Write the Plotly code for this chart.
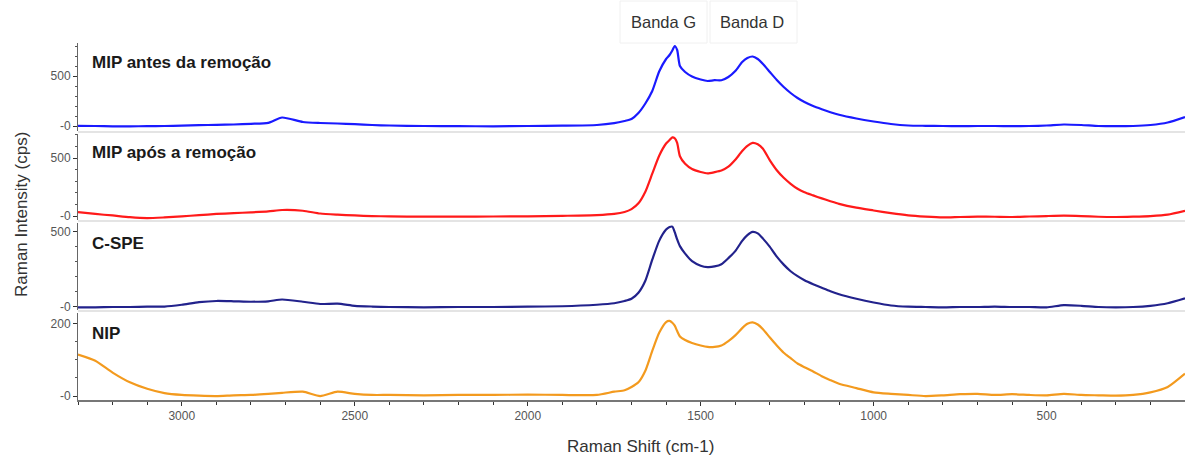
import plotly.graph_objects as go

# Raman shift grid (cm-1)
shift = [3300, 3250, 3200, 3150, 3100, 3050, 3000, 2950, 2900, 2850, 2800, 2750, 2710,
         2650, 2600, 2550, 2500, 2450, 2400, 2300, 2200, 2100, 2000, 1900, 1800, 1750,
         1720, 1700, 1680, 1660, 1640, 1620, 1600, 1590, 1582, 1575, 1568, 1560, 1545,
         1525, 1500, 1480, 1460, 1440, 1420, 1400, 1380, 1365, 1350, 1335, 1320, 1300,
         1280, 1260, 1240, 1220, 1200, 1175, 1150, 1125, 1100, 1050, 1000, 950, 900,
         850, 800, 750, 700, 650, 600, 550, 500, 450, 400, 350, 300, 250, 200, 150, 100]

mip_antes = [2, 0, -3, -3, -2, 0, 3, 8, 12, 15, 22, 32, 85,
             40, 30, 25, 18, 10, 5, 0, -2, -3, 0, 3, 10, 28,
             50, 70, 130, 225, 350, 545, 670, 710, 755, 800, 760, 600, 540,
             495, 465, 450, 458, 458, 490, 550, 640, 680, 695, 670, 620, 540,
             460, 390, 330, 280, 240, 200, 168, 138, 112, 75, 45, 20, 5,
             2, 0, -2, 0, 0, -2, 0, 5, 15, 10, 0, -2, 0, 10, 35, 90]

mip_apos = [34, 18, 5, -10, -18, -12, -3, 8, 18, 25, 32, 40, 52,
            46, 22, 12, 5, 0, -3, -5, -5, -4, -2, 2, 8, 18,
            35, 60, 110, 210, 365, 520, 625, 655, 678, 670, 630, 515, 450,
            405, 380, 368, 378, 392, 425, 485, 560, 605, 630, 618, 580, 480,
            395, 330, 278, 235, 205, 178, 152, 128, 105, 72, 48, 25, 6,
            -5, -12, -8, -5, -6, -8, -4, 0, 3, 0, -6, -8, -5, 0, 12, 45]

c_spe = [-2, -2, 0, 0, 2, 3, 15, 32, 40, 38, 35, 38, 50,
         35, 20, 22, 8, 3, 0, -2, 0, 0, 2, 5, 15, 25,
         40, 55, 95, 175, 315, 440, 515, 532, 535, 498, 450, 405, 355,
         305, 275, 266, 270, 285, 325, 372, 440, 478, 500, 490, 455, 400,
         335, 282, 238, 205, 178, 152, 128, 105, 85, 55, 30, 10, 2,
         0, -2, 0, 0, 3, 0, 0, -2, 12, 8, 0, -2, 0, 8, 25, 58]

nip = [115, 98, 65, 38, 20, 8, 3, 1, 0, 2, 3, 6, 9,
       12, 0, 12, 6, 3, 3, 2, 3, 3, 4, 3, 3, 12,
       16, 25, 38, 70, 125, 175, 205, 208, 203, 195, 180, 165, 155,
       147, 140, 136, 136, 140, 152, 168, 188, 200, 204, 198, 185, 162,
       140, 120, 105, 90, 80, 68, 55, 44, 34, 22, 10, 6, 3,
       0, 2, 5, 6, 3, 5, 3, 2, 6, 3, 2, 1, 3, 10, 25, 62]

series_names = ["MIP antes da remoção", "MIP após a remoção", "C-SPE", "NIP"]
series_values = [mip_antes, mip_apos, c_spe, nip]
colors = ["#1a1aff", "#ff1a1a", "#22228c", "#f39a1e"]

x_ticks = [3000, 2500, 2000, 1500, 1000, 500]
y_top_tick = [500, 500, 500, 200]

W, H = 1185, 460
L, T, B = 78, 43, 60
plot_h = H - T - B  # 357
bottom_px = H - B   # 400

def py(px):
    return (bottom_px - px) / plot_h

def px_x(px):
    return (px - L) / (W - L)

panels_px = [(43, 131), (134, 220), (223, 310), (313, 400)]
y_ranges = [[-50, 830], [-34, 707], [-20, 559], [-11, 230]]
minor_dt = [100, 100, 100, 50]

fig = go.Figure()
font_family = "Arial, Liberation Sans, sans-serif"

for i, (name, vals) in enumerate(zip(series_names, series_values)):
    yname = "y" if i == 0 else f"y{i+1}"
    fig.add_trace(go.Scatter(x=shift, y=vals, mode="lines", name=name,
                             line=dict(color=colors[i], width=2.2,
                                       shape="spline", smoothing=0.6),
                             xaxis="x", yaxis=yname, showlegend=False))
    top, bot = panels_px[i]
    key = "yaxis" if i == 0 else f"yaxis{i+1}"
    fig.layout[key] = dict(
        domain=[py(bot), py(top)], range=y_ranges[i], anchor="x",
        tickmode="array", tickvals=[0, y_top_tick[i]],
        ticktext=["-0", str(y_top_tick[i])],
        showgrid=False, zeroline=False, showline=True, linecolor="#666",
        linewidth=1, ticks="outside", ticklen=4, tickcolor="#333",
        tickfont=dict(family=font_family, size=12, color="#555"),
        minor=dict(tickmode="linear", tick0=0, dtick=minor_dt[i],
                   ticks="outside", ticklen=2, tickcolor="#555"),
    )

fig.update_layout(
    width=W, height=H,
    margin=dict(l=L, r=0, t=T, b=B),
    paper_bgcolor="white", plot_bgcolor="white",
    xaxis=dict(range=[3300, 100], anchor="y4", tickmode="array", tickvals=x_ticks,
               showgrid=False, zeroline=False, showline=True, linecolor="#777",
               linewidth=2, ticks="outside", ticklen=4, tickcolor="#333",
               tickfont=dict(family=font_family, size=12, color="#555"),
               minor=dict(tickmode="linear", tick0=0, dtick=100, ticks="outside",
                          ticklen=3, tickcolor="#333")),
)

# separators between panels
for yy in [132, 221, 311]:
    fig.add_shape(type="line", xref="paper", yref="paper", x0=0, x1=1,
                  y0=py(yy), y1=py(yy), line=dict(color="#e4e4e4", width=2))

# panel labels
label_px_y = [62, 152, 243, 333]
for name, yy in zip(series_names, label_px_y):
    fig.add_annotation(text=f"<b>{name}</b>", xref="paper", yref="paper",
                       x=px_x(90), y=py(yy), xanchor="left", yanchor="middle",
                       showarrow=False,
                       font=dict(family=font_family, size=17, color="#1a1a1a"))

# band labels with faint boxes
for txt, cx, x0, x1 in [("Banda G", 663, 620, 707), ("Banda D", 752, 710, 797)]:
    fig.add_shape(type="rect", xref="paper", yref="paper",
                  x0=px_x(x0), x1=px_x(x1), y0=py(43), y1=py(1),
                  line=dict(color="#f0f0f0", width=1))
    fig.add_annotation(text=txt, xref="paper", yref="paper", x=px_x(cx), y=py(22),
                       xanchor="center", yanchor="middle", showarrow=False,
                       font=dict(family=font_family, size=16.5, color="#333"))

# axis titles
fig.add_annotation(text="Raman Intensity (cps)", xref="paper", yref="paper",
                   x=px_x(22), y=py(215), textangle=-90, xanchor="center",
                   yanchor="middle", showarrow=False,
                   font=dict(family=font_family, size=17, color="#333"))
fig.add_annotation(text="Raman Shift (cm-1)", xref="paper", yref="paper",
                   x=px_x(640), y=py(446), xanchor="center",
                   yanchor="middle", showarrow=False,
                   font=dict(family=font_family, size=17, color="#333"))

fig.write_html("out.html")
